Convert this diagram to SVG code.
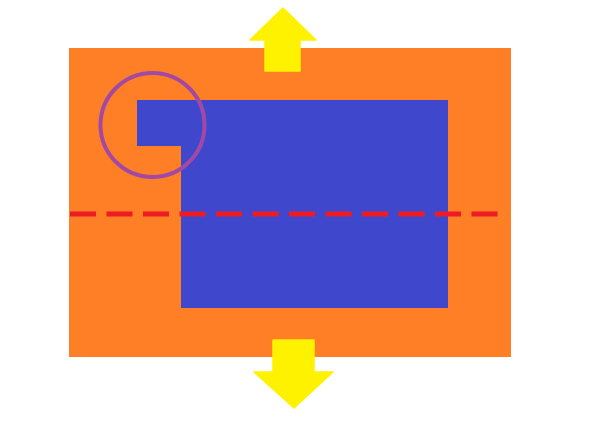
<svg xmlns="http://www.w3.org/2000/svg" width="592" height="444" viewBox="0 0 592 444">
<style>
.arrow{fill:#FFF200;stroke:#FFF200;stroke-width:1.5;stroke-linejoin:round}
</style>
<rect width="592" height="444" fill="#FFFFFF"/>
<g id="outer"><rect x="69" y="48" width="442" height="309" fill="#FF7F27"/></g>
<g id="inner"><path d="M137 100 H448 V308 H181 V146 H137 Z" fill="#3F48CC"/></g>
<g id="circle"><circle cx="152.5" cy="125" r="52" fill="none" stroke="#A349A4" stroke-width="4"/></g>
<g id="connectors">
<line x1="70" y1="214" x2="498" y2="214" stroke="#ED1C24" stroke-width="5" stroke-dasharray="26 10.5"/>
</g>
<g id="arrow-up"><path class="arrow" d="M283 8 L316 40 H300 V71 H265 V40 H250 Z"/></g>
<g id="arrow-down"><path class="arrow" d="M273 340 H314 V372 H333 L294 408 L254 372 H273 Z"/></g>
</svg>
